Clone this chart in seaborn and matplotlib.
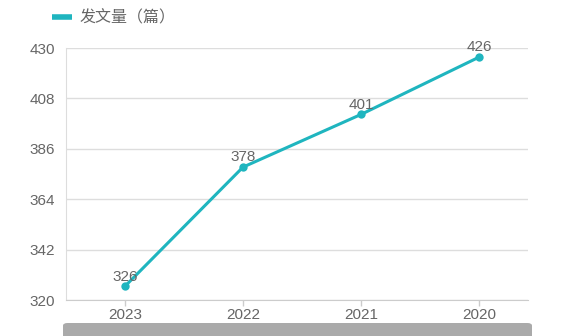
import matplotlib
matplotlib.use("Agg")
import matplotlib.pyplot as plt
from matplotlib.patches import FancyBboxPatch
from matplotlib.lines import Line2D
import seaborn as sns
import pandas as pd

years = ["2023", "2022", "2021", "2020"]
counts = [326, 378, 401, 426]
y_ticks = [320, 342, 364, 386, 408, 430]
series_name = "发文量（篇）"

sns.set_style("white")
plt.rcParams["font.family"] = ["Liberation Sans", "Noto Sans CJK SC", "DejaVu Sans"]

teal = "#1fb5bf"
text_gray = "#666666"
grid_gray = "#dddddd"
fs = 11

df = pd.DataFrame({"pos": range(len(years)), "year": years, "count": counts})

W, H = 572, 336
fig = plt.figure(figsize=(W / 100, H / 100), dpi=100)
ax = fig.add_axes([66 / W, 1 - 300 / H, (528 - 66) / W, (300 - 48) / H])

sns.lineplot(data=df, x="pos", y="count", ax=ax, color=teal, linewidth=2.2,
             marker="o", markersize=6, markeredgewidth=0, zorder=3)

for p, v in zip(df["pos"], df["count"]):
    ax.annotate(str(v), (p, v), xytext=(0, 7), textcoords="offset points",
                ha="center", va="center", fontsize=fs, color=text_gray, zorder=4)

ax.set_xlim(-0.5, 3 + 49 / 118)
ax.set_ylim(320, 430)
ax.set_yticks(y_ticks)
ax.set_xticks(df["pos"])
ax.set_xticklabels(years)
ax.set_xlabel("")
ax.set_ylabel("")

ax.yaxis.grid(True, color=grid_gray, linewidth=1)
ax.set_axisbelow(True)
for side in ["top", "right"]:
    ax.spines[side].set_visible(False)
ax.spines["left"].set_color(grid_gray)
ax.spines["bottom"].set_color("#cccccc")
ax.tick_params(axis="y", length=0, pad=8, labelsize=fs, labelcolor=text_gray)
ax.tick_params(axis="x", length=4, color="#cccccc", width=1, pad=2,
               labelsize=fs, labelcolor=text_gray, bottom=True)

# legend
handle = Line2D([], [], color=teal, linewidth=4, solid_capstyle="butt")
fig.legend([handle], [series_name], loc="center left",
           bbox_to_anchor=(52 / W, 1 - 18 / H), frameon=False,
           fontsize=fs + 0.5, labelcolor=text_gray, handlelength=1.25,
           handletextpad=0.45, borderaxespad=0, borderpad=0)

# scrollbar strip beneath the axis
bar = FancyBboxPatch((63 / W, -0.02), (532 - 63) / W, (336 - 323) / H + 0.02,
                     boxstyle="round,pad=0,rounding_size=0.008",
                     transform=fig.transFigure, facecolor="#aaaaaa",
                     edgecolor="none")
fig.patches.append(bar)

fig.savefig("out.png", dpi=100)
